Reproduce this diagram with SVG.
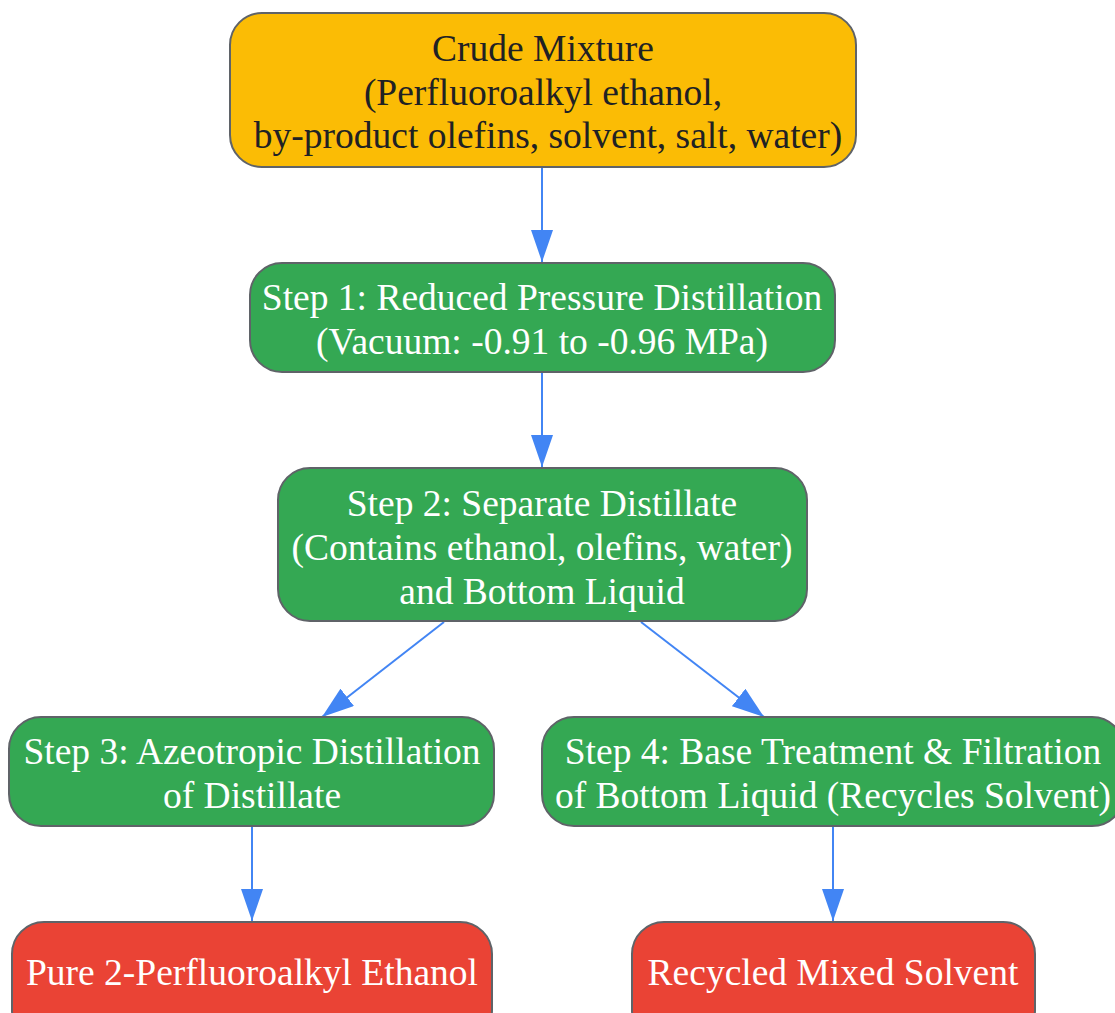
<svg xmlns="http://www.w3.org/2000/svg" width="1115" height="1013" viewBox="0 0 1115 1013">
<style>
.node rect{stroke:#5f6368;stroke-width:2}
.y rect{fill:#FBBC05}
.g rect{fill:#34A853}
.r rect{fill:#EA4335}
text{font-family:"Liberation Serif",serif;font-size:37.5px;text-anchor:middle}
.y text{fill:#202124}
.g text,.r text{fill:#ffffff}
.edge{stroke:#4285F4;stroke-width:2;fill:none;marker-end:url(#ah)}
</style>
<defs>
<marker id="ah" markerUnits="userSpaceOnUse" markerWidth="32" markerHeight="22" refX="32" refY="11" orient="auto" viewBox="0 0 32 22">
<path d="M0,0 L32,11 L0,22 Z" fill="#4285F4"/>
</marker>
</defs>
<g id="edges">
<line class="edge" x1="542" y1="167" x2="542" y2="262"/>
<line class="edge" x1="542" y1="372" x2="542" y2="467"/>
<line class="edge" x1="444" y1="622" x2="322" y2="717"/>
<line class="edge" x1="641" y1="622" x2="764" y2="717"/>
<line class="edge" x1="252" y1="826" x2="252" y2="921"/>
<line class="edge" x1="833" y1="826" x2="833" y2="921"/>
</g>
<g id="crude" class="node y">
<rect x="230" y="13" width="626" height="154" rx="32"/>
<text x="543" y="61">Crude Mixture</text>
<text x="543" y="105">(Perfluoroalkyl ethanol,</text>
<text x="548" y="148">by-product olefins, solvent, salt, water)</text>
</g>
<g id="step1" class="node g">
<rect x="250" y="263" width="585" height="109" rx="32"/>
<text x="542" y="310">Step 1: Reduced Pressure Distillation</text>
<text x="542" y="354">(Vacuum: -0.91 to -0.96 MPa)</text>
</g>
<g id="step2" class="node g">
<rect x="278" y="468" width="529" height="153" rx="32"/>
<text x="542" y="516">Step 2: Separate Distillate</text>
<text x="542" y="560">(Contains ethanol, olefins, water)</text>
<text x="542" y="604">and Bottom Liquid</text>
</g>
<g id="step3" class="node g">
<rect x="9" y="717" width="485" height="109" rx="32"/>
<text x="252" y="764">Step 3: Azeotropic Distillation</text>
<text x="252" y="808">of Distillate</text>
</g>
<g id="step4" class="node g">
<rect x="542" y="717" width="582" height="109" rx="32"/>
<text x="833" y="764">Step 4: Base Treatment &amp; Filtration</text>
<text x="833" y="808">of Bottom Liquid (Recycles Solvent)</text>
</g>
<g id="pure" class="node r">
<rect x="12" y="922" width="480" height="120" rx="32"/>
<text x="252" y="985">Pure 2-Perfluoroalkyl Ethanol</text>
</g>
<g id="recycled" class="node r">
<rect x="632" y="922" width="403" height="120" rx="32"/>
<text x="833" y="985">Recycled Mixed Solvent</text>
</g>
</svg>
